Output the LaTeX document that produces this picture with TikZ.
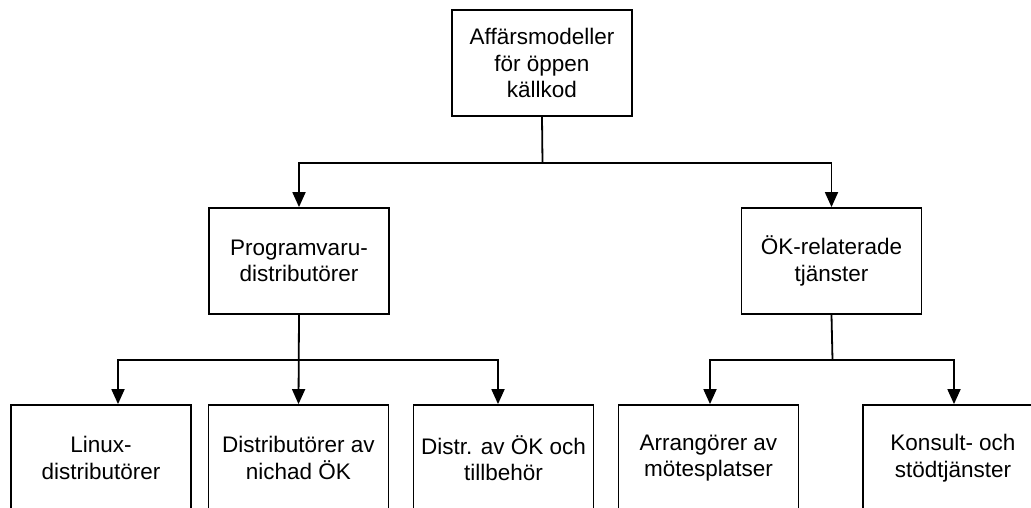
\documentclass[tikz,border=0pt]{standalone}
\usepackage{fontspec}
\setmainfont{Liberation Sans}
\usetikzlibrary{arrows.meta}
\begin{document}
\begin{tikzpicture}[x=1pt,y=-1pt,
  box/.style={draw,line width=1.8pt,minimum width=180pt,minimum height=106pt,align=center,inner sep=0pt,
    font=\fontsize{22.5}{26.5}\selectfont},
  conn/.style={line width=1.8pt},
  arrw/.style={conn,-{Triangle[length=15pt,width=13pt]}}]
\useasboundingbox (0,0) rectangle (1031,507);
\node[box] (top) at (542,63) {Affärsmodeller\\för öppen\\källkod};
\node[box] (prog) at (299,261) {Programvaru-\\distributörer};
\node[box] (ok) at (831.5,261) {ÖK-relaterade\\tjänster};
\node[box] (linux) at (101,458) {Linux-\\distributörer};
\node[box] (dist) at (298.5,458) {Distributörer av\\nichad ÖK};
\node[box] (distr) at (503.5,458) {Distr. av ÖK och\\tillbehör};
\node[box] (arrn) at (708.5,458) {Arrangörer av\\mötesplatser};
\node[box] (kons) at (953,458) {Konsult- och\\stödtjänster};
\coordinate (j1) at (542.5,163);
\coordinate (a1) at (118,360);
\coordinate (a3) at (498,360);
\coordinate (b0) at (832.5,360);
\coordinate (b1) at (710,360);
\coordinate (b2) at (954,360);
\draw[conn] (top.south) -- (j1);
\draw[arrw] (j1) -| (prog.north);
\draw[arrw] (j1) -| (ok.north);
\draw[arrw] (prog.south) -- (dist.north);
\draw[arrw] (prog.south |- a1) -- (a1) -- (a1 |- linux.north);
\draw[arrw] (prog.south |- a3) -- (a3) -- (a3 |- distr.north);
\draw[conn] (ok.south) -- (b0);
\draw[arrw] (b0) -- (b1) -- (b1 |- arrn.north);
\draw[arrw] (b0) -- (b2) -- (b2 |- kons.north);
\end{tikzpicture}
\end{document}
